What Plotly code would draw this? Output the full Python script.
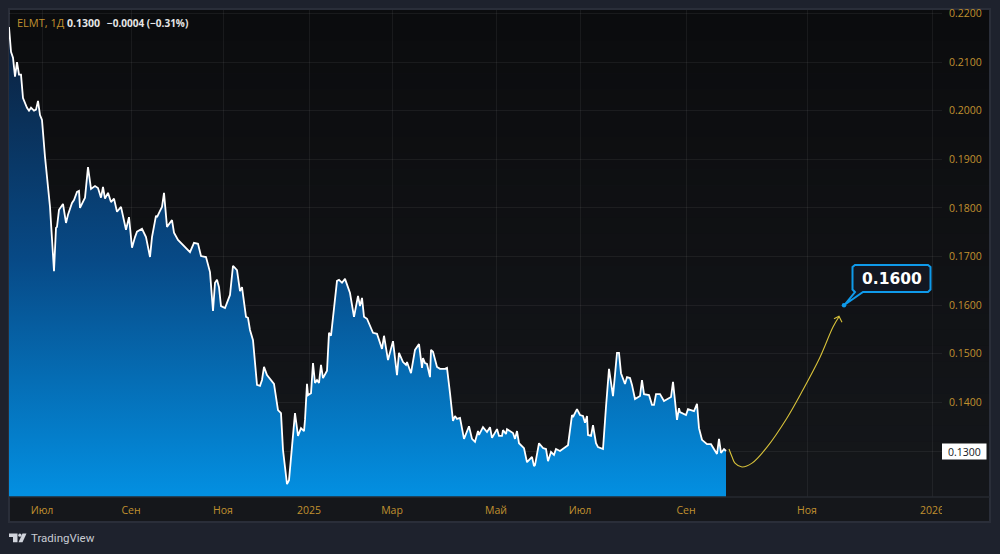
import plotly.graph_objects as go

# Daily close of ELMT, addressed by position along the time axis
sessions = [0,2,4,6,8,10,12,14,18,20,22,25,27,29,31,33,36,41,45,47,48,50,54,57,59,63,65,68,70,71,76,79,82,86,89,92,94,96,99,102,105,108,112,117,120,123,126,128,133,137,141,143,147,148,151,153,155,158,163,165,169,174,181,185,189,192,197,201,204,206,208,210,212,216,219,221,224,228,231,233,237,239,241,244,248,251,253,255,258,263,265,269,272,274,278,280,286,289,292,295,296,298,299,302,304,306,308,310,312,314,318,320,322,328,330,333,336,341,345,349,351,353,355,358,364,368,373,375,379,384,388,390,394,397,398,402,406,410,413,414,416,418,421,422,424,428,431,436,438,441,444,446,448,451,455,460,463,466,469,470,474,478,481,483,488,490,493,494,497,498,504,506,508,510,515,518,523,525,526,530,534,537,539,542,545,547,551,559,563,564,568,571,574,576,578,579,582,584,587,589,594,597,600,604,608,610,612,616,618,621,623,626,631,633,635,640,643,645,647,651,655,662,664,668,670,671,677,679,685,688,690,693,698,702,708,710,712,715,717]
closes = [.2172,.2121,.2109,.2070,.2100,.2074,.2074,.2026,.2006,.2000,.2006,.2000,.2002,.2020,.1991,.1981,.1905,.1802,.1670,.1759,.1761,.1796,.1808,.1769,.1786,.1810,.1816,.1833,.1835,.1800,.1821,.1884,.1839,.1845,.1841,.1821,.1843,.1819,.1831,.1812,.1819,.1792,.1802,.1755,.1781,.1718,.1740,.1751,.1757,.1740,.1699,.1740,.1784,.1781,.1794,.1802,.1831,.1761,.1775,.1749,.1734,.1724,.1709,.1728,.1726,.1701,.1699,.1668,.1588,.1646,.1652,.1637,.1598,.1594,.1613,.1621,.1681,.1672,.1629,.1637,.1576,.1574,.1549,.1528,.1436,.1434,.1446,.1473,.1456,.1442,.1438,.1384,.1378,.1302,.1232,.1240,.1378,.1331,.1347,.1341,.1364,.1438,.1415,.1419,.1481,.1440,.1446,.1440,.1477,.1450,.1465,.1543,.1537,.1650,.1652,.1646,.1654,.1625,.1576,.1619,.1598,.1615,.1576,.1572,.1543,.1541,.1510,.1537,.1487,.1526,.1456,.1502,.1483,.1477,.1483,.1460,.1508,.1520,.1471,.1491,.1481,.1479,.1452,.1508,.1504,.1473,.1469,.1469,.1471,.1419,.1362,.1372,.1366,.1368,.1325,.1351,.1325,.1319,.1341,.1333,.1349,.1339,.1349,.1327,.1345,.1331,.1331,.1343,.1335,.1345,.1337,.1325,.1341,.1316,.1306,.1277,.1288,.1269,.1271,.1316,.1306,.1304,.1279,.1298,.1292,.1304,.1300,.1312,.1374,.1370,.1386,.1374,.1372,.1358,.1372,.1333,.1331,.1353,.1316,.1308,.1304,.1391,.1469,.1413,.1502,.1502,.1460,.1438,.1452,.1450,.1436,.1407,.1413,.1446,.1417,.1415,.1395,.1395,.1417,.1417,.1403,.1411,.1442,.1364,.1388,.1380,.1374,.1386,.1382,.1397,.1347,.1323,.1314,.1314,.1294,.1325,.1296,.1304,.1300]

# Hand-drawn forecast curve and its arrow head
forecast_sessions = [720,723,726,733,743,758,778,794,811,824,830]
forecast_prices = [.1304,.1288,.1275,.1267,.1275,.1308,.1368,.1426,.1493,.1555,.1576]
head_sessions = [825,830,833]
head_prices = [.1572,.1577,.1565]

target_session = [835]
target_price = [.1600]

tick_sessions = [33,122,214,300,383,487,571,677,798,923]
tick_months = ["Июл","Сен","Ноя","2025","Мар","Май","Июл","Сен","Ноя","2026"]
price_ticks = [.13,.14,.15,.16,.17,.18,.19,.20,.21,.22]

W, H = 1000, 554
L, R, T, B = 9, 942, 10, 497
GOLD = "#c0912f"
BLUE = "#0f9aea"
FONT = "Open Sans"


def fx(px):
    return (px - L) / (R - L)


def fy(py):
    return (B - py) / (B - T)


def page_path(points, close=True):
    body = " L ".join(f"{fx(x):.5f},{fy(y):.5f}" for x, y in points)
    return "M " + body + (" Z" if close else "")


def blend(a, b, t):
    return "#" + "".join(f"{round(a[i] + (b[i] - a[i]) * t):02x}" for i in range(3))


shapes = []

# Chart panel with its soft top-to-bottom shading
PANEL_TOP, PANEL_BOTTOM = 9, 522
bands = 32
for i in range(bands):
    y0 = PANEL_TOP + (PANEL_BOTTOM - PANEL_TOP) * i / bands
    y1 = PANEL_TOP + (PANEL_BOTTOM - PANEL_TOP) * (i + 1) / bands
    shapes.append(dict(type="rect", xref="paper", yref="paper", layer="below",
                       x0=fx(9), x1=fx(990), y0=fy(y0), y1=fy(y1 + 0.5), line_width=0,
                       fillcolor=blend((11, 12, 14), (21, 23, 27), i / (bands - 1))))
shapes.append(dict(type="rect", xref="paper", yref="paper", layer="below",
                   x0=fx(9), x1=fx(990), y0=fy(9), y1=fy(522),
                   line=dict(color="#2a2e39", width=2)))

# Time scale separator and the cut-off edge of the last month label
shapes.append(dict(type="line", xref="paper", yref="paper", layer="above",
                   x0=0, x1=fx(990), y0=0, y1=0, line=dict(color="#262a31", width=1.5)))
shapes.append(dict(type="rect", xref="paper", yref="paper", layer="above",
                   x0=1, x1=fx(989), y0=fy(499), y1=fy(520), line_width=0, fillcolor="#15171b"))

# Last-price tag
shapes.append(dict(type="rect", xref="paper", yref="paper", layer="above",
                   x0=1, x1=fx(986.5), y0=fy(443.5), y1=fy(459.5), line_width=0, fillcolor="#ffffff"))

# Target callout with its pointer
shapes.append(dict(type="path", xref="paper", yref="paper", layer="above",
                   path=page_path([(855, 265), (928, 265), (930.5, 267), (930.5, 289.5), (928, 292),
                                   (863, 292), (845, 304.5), (855, 292), (852.5, 289.5),
                                   (852.5, 267)]),
                   fillcolor="#131722", line=dict(color=BLUE, width=2)))

# TradingView mark
LOGO = "#d1d4dc"
shapes.append(dict(type="path", xref="paper", yref="paper", layer="above", line_width=0, fillcolor=LOGO,
                   path=page_path([(9, 533.5), (17.5, 533.5), (17.5, 542.3), (13, 542.3), (13, 537), (9, 537)])))
shapes.append(dict(type="circle", xref="paper", yref="paper", layer="above", line_width=0, fillcolor=LOGO,
                   x0=fx(18.3), x1=fx(21.5), y0=fy(533.5), y1=fy(536.8)))
shapes.append(dict(type="path", xref="paper", yref="paper", layer="above", line_width=0, fillcolor=LOGO,
                   path=page_path([(22.5, 533.5), (26.5, 533.5), (22.5, 542.3), (18.5, 542.3)])))

annotations = [
    dict(xref="paper", yref="paper", x=fx(14.5), y=fy(22.5), xanchor="left", yanchor="middle",
         showarrow=False, align="left",
         text=f"<span style='color:{GOLD}'>ELMT, 1Д</span>", font=dict(family=FONT, size=11)),
    dict(xref="paper", yref="paper", x=fx(65), y=fy(22.5), xanchor="left", yanchor="middle",
         showarrow=False, text="<b>0.1300</b>", font=dict(family=FONT, size=10.5, color="#e6e6e6")),
    dict(xref="paper", yref="paper", x=fx(104.5), y=fy(22.5), xanchor="left", yanchor="middle",
         showarrow=False, text="<b>−0.0004 (−0.31%)</b>", font=dict(family=FONT, size=10, color="#e6e6e6")),
    dict(xref="paper", yref="paper", x=fx(964.5), y=fy(451.5), xanchor="center", yanchor="middle",
         showarrow=False, text="0.1300", font=dict(family=FONT, size=10.5, color="#131722")),
    dict(x=fx(891.5), y=fy(278.5), xref="paper", yref="paper", xanchor="center", yanchor="middle",
         showarrow=False, text="<b>0.1600</b>", font=dict(family="DejaVu Sans", size=15.5, color="#ffffff")),
    dict(xref="paper", yref="paper", x=fx(28.5), y=fy(538), xanchor="left", yanchor="middle",
         showarrow=False, text="TradingView", font=dict(family="Roboto", size=11.5, color="#c8cbd3")),
]

fig = go.Figure()

fig.add_trace(go.Scatter(
    x=sessions, y=closes, mode="lines", fill="tozeroy",
    line=dict(color="#ffffff", width=1.8),
    fillgradient=dict(type="vertical", start=0.2175, stop=0.1205,
                      colorscale=[[0, "#0c1f3a"], [0.5, "#074a87"], [1, "#0390e2"]]),
    hoverinfo="skip", showlegend=False,
))
fig.add_trace(go.Scatter(
    x=forecast_sessions, y=forecast_prices, mode="lines",
    line=dict(color="#d8c23a", width=1.1, shape="spline"), hoverinfo="skip", showlegend=False,
))
fig.add_trace(go.Scatter(
    x=head_sessions, y=head_prices, mode="lines",
    line=dict(color="#d8c23a", width=1.1), hoverinfo="skip", showlegend=False,
))
fig.add_trace(go.Scatter(
    x=target_session, y=target_price, mode="markers",
    marker=dict(color=BLUE, size=4.5), hoverinfo="skip", showlegend=False,
))

fig.update_layout(
    width=W, height=H, margin=dict(l=L, r=W - R, t=T, b=H - B, autoexpand=False),
    paper_bgcolor="#1e222d", plot_bgcolor="rgba(0,0,0,0)",
    shapes=shapes, annotations=annotations,
    xaxis=dict(range=[0, 933], tickmode="array", tickvals=tick_sessions, ticktext=tick_months,
               showgrid=True, gridcolor="rgba(255,255,255,0.06)", gridwidth=1, zeroline=False,
               showline=False, ticks="", ticklabelstandoff=5,
               tickfont=dict(family=FONT, size=10.5, color=GOLD)),
    yaxis=dict(range=[0.12054, 0.2207], side="right", tickmode="array", tickvals=price_ticks,
               ticktext=[f"{v:.4f}" for v in price_ticks],
               showgrid=True, gridcolor="rgba(255,255,255,0.06)", gridwidth=1, zeroline=False,
               showline=False, ticks="", ticklabelstandoff=6,
               tickfont=dict(family=FONT, size=10.5, color=GOLD)),
)

fig.write_html("out.html")
